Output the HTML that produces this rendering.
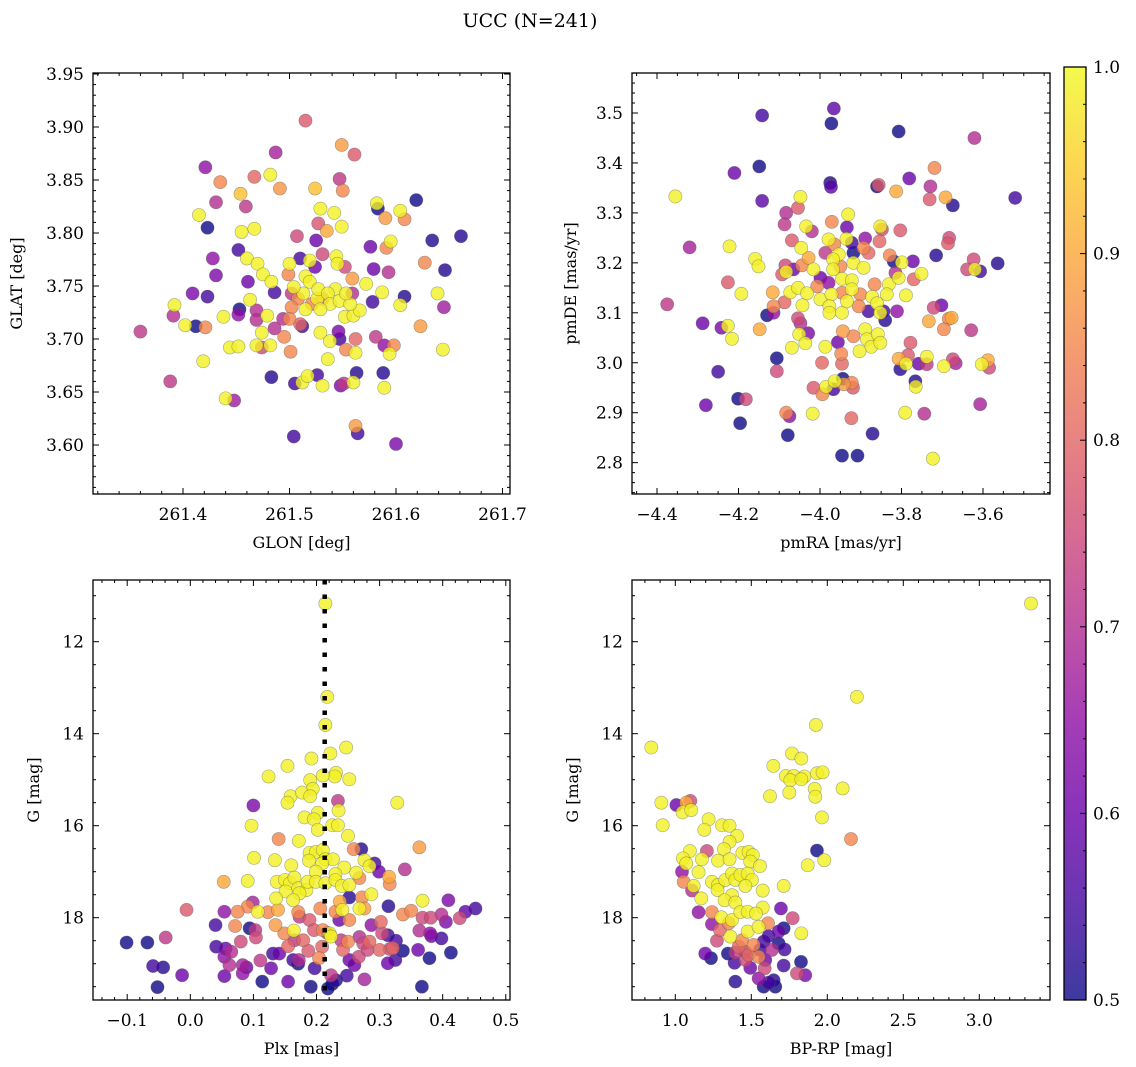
<!DOCTYPE html>
<html><head><meta charset="utf-8"><style>
html,body{margin:0;padding:0;background:#fff;}
svg{display:block;font-family:"DejaVu Serif","Liberation Serif",serif;}
</style></head><body>
<svg id="fig" width="1136" height="1067" viewBox="0 0 1136 1067" xmlns="http://www.w3.org/2000/svg">
<defs>
<linearGradient id="plasma" x1="0" y1="1" x2="0" y2="0">
<stop offset="0" stop-color="#0d0887"/><stop offset="0.1" stop-color="#41049d"/><stop offset="0.2" stop-color="#6a00a8"/><stop offset="0.3" stop-color="#8f0da4"/><stop offset="0.4" stop-color="#b12a90"/><stop offset="0.5" stop-color="#cc4778"/><stop offset="0.6" stop-color="#e16462"/><stop offset="0.7" stop-color="#f2844b"/><stop offset="0.8" stop-color="#fca636"/><stop offset="0.9" stop-color="#fcce25"/><stop offset="1" stop-color="#f0f921"/>
</linearGradient>
</defs>
<text x="530" y="27" font-size="19" text-anchor="middle">UCC (N=241)</text>
</svg>
<script>
// ---------- data: panel 1 (GLON vs GLAT) ----------
const glon=[261.515,261.549,261.561,261.421,261.487,261.435,261.467,261.482,261.491,261.524,261.547,261.550,261.454,261.431,261.459,261.415,261.529,261.542,261.423,261.455,261.467,261.527,261.535,261.549,261.582,261.583,261.590,261.604,261.608,261.619,261.634,261.661,261.646,261.591,261.576,261.595,261.507,261.525,261.452,261.428,261.431,261.460,261.470,261.475,261.483,261.486,261.461,261.409,261.392,261.423,261.412,261.402,261.421,261.391,261.360,261.438,261.453,261.463,261.469,261.452,261.469,261.479,261.502,261.515,261.526,261.543,261.559,261.572,261.579,261.593,261.587,261.578,261.604,261.608,261.627,261.639,261.645,261.623,261.644,261.581,261.589,261.598,261.594,261.588,261.589,261.512,261.529,261.538,261.546,261.536,261.547,261.553,261.562,261.562,261.501,261.486,261.495,261.482,261.474,261.444,261.452,261.469,261.483,261.505,261.512,261.517,261.531,261.526,261.548,261.551,261.560,261.563,261.474,261.440,261.448,261.504,261.562,261.564,261.600,261.388,261.419,261.519,261.527,261.531,261.536,261.538,261.529,261.547,261.521,261.513,261.508,261.504,261.519,261.524,261.531,261.544,261.545,261.552,261.510,261.500,261.499,261.502,261.494,261.500,261.510,261.515,261.552,261.560,261.566,261.557,261.553,261.559];
const glat=[3.906,3.883,3.874,3.862,3.876,3.848,3.853,3.855,3.842,3.842,3.851,3.840,3.837,3.829,3.825,3.817,3.823,3.819,3.805,3.801,3.804,3.809,3.802,3.806,3.828,3.823,3.814,3.821,3.813,3.831,3.793,3.797,3.765,3.786,3.787,3.792,3.797,3.793,3.784,3.776,3.760,3.776,3.771,3.761,3.754,3.744,3.754,3.743,3.732,3.740,3.712,3.713,3.711,3.722,3.707,3.721,3.728,3.737,3.727,3.723,3.718,3.722,3.743,3.759,3.738,3.747,3.757,3.752,3.766,3.763,3.744,3.735,3.732,3.740,3.772,3.743,3.730,3.712,3.690,3.702,3.694,3.694,3.686,3.668,3.654,3.712,3.706,3.698,3.707,3.681,3.700,3.690,3.687,3.700,3.688,3.710,3.702,3.694,3.692,3.692,3.693,3.694,3.664,3.658,3.659,3.665,3.656,3.666,3.656,3.658,3.659,3.668,3.706,3.644,3.642,3.608,3.618,3.611,3.601,3.660,3.679,3.754,3.747,3.738,3.743,3.733,3.728,3.736,3.733,3.743,3.738,3.749,3.774,3.768,3.780,3.778,3.771,3.768,3.776,3.771,3.761,3.730,3.719,3.719,3.714,3.728,3.721,3.722,3.727,3.733,3.743,3.743];
const prob1=[.78,.88,.78,.65,.68,.85,.80,.99,.87,.93,.72,.85,.93,.70,.72,.99,.99,.99,.50,.99,.99,.77,.90,.99,.99,.50,.88,.99,.85,.50,.52,.52,.52,.85,.60,.99,.75,.60,.55,.65,.62,.99,.99,.99,.99,.55,.60,.62,.99,.55,.50,.99,.85,.70,.72,.99,.50,.99,.70,.65,.70,.99,.72,.99,.99,.99,.88,.99,.60,.70,.99,.55,.99,.52,.85,.99,.67,.88,.99,.72,.65,.85,.99,.52,.99,.55,.99,.99,.62,.99,.55,.85,.99,.80,.85,.70,.85,.99,.75,.99,.99,.99,.52,.55,.99,.99,.99,.55,.62,.72,.99,.52,.99,.99,.67,.55,.88,.55,.62,.72,.99,.99,.99,.85,.99,.99,.99,.99,.85,.99,.85,.99,.99,.60,.75,.99,.99,.75,.55,.99,.85,.85,.70,.85,.80,.99,.99,.99,.99,.99,.99,.70];
const glonTicks=[261.4,261.5,261.6,261.7];
const glatTicks=[3.60,3.65,3.70,3.75,3.80,3.85,3.90,3.95];

// ---------- data: panel 2 (pmRA vs pmDE) ----------
const pmra=[-3.966,-3.972,-4.142,-3.807,-3.621,-4.149,-4.210,-4.355,-4.142,-3.975,-3.973,-3.860,-3.856,-3.781,-3.719,-3.729,-3.731,-3.692,-3.674,-3.813,-3.521,-4.048,-4.054,-4.083,-4.087,-3.931,-3.971,-3.934,-4.034,-4.020,-3.852,-3.848,-3.803,-4.069,-4.046,-3.979,-3.965,-3.935,-3.889,-3.922,-3.893,-3.881,-3.854,-3.987,-3.954,-3.918,-3.829,-3.819,-3.799,-3.772,-3.683,-3.686,-3.715,-3.623,-3.639,-3.620,-3.607,-3.564,-4.222,-4.159,-4.151,-4.320,-4.085,-4.093,-4.083,-4.065,-4.044,-4.028,-4.016,-3.968,-3.968,-3.950,-3.918,-3.893,-3.999,-3.979,-3.946,-3.922,-3.866,-3.831,-3.807,-3.815,-3.770,-3.751,-4.226,-4.193,-4.116,-4.073,-4.054,-4.032,-4.007,-3.999,-3.972,-3.946,-3.922,-3.901,-3.872,-3.836,-3.789,-4.375,-4.114,-4.087,-4.043,-4.130,-4.114,-3.977,-3.977,-3.946,-3.934,-3.905,-3.881,-3.860,-3.844,-3.811,-3.852,-3.840,-3.721,-3.702,-3.684,-3.677,-3.733,-3.696,-3.629,-4.288,-4.242,-4.226,-4.216,-4.148,-4.054,-4.048,-4.029,-4.051,-4.036,-4.069,-3.987,-3.956,-3.948,-3.944,-3.918,-3.889,-3.885,-3.874,-3.858,-3.852,-3.903,-3.995,-3.946,-4.106,-4.106,-4.250,-3.778,-3.784,-3.803,-3.807,-3.789,-3.758,-3.738,-3.738,-3.696,-3.674,-3.667,-3.603,-3.588,-3.585,-3.766,-3.765,-4.016,-3.994,-3.967,-3.985,-3.964,-3.944,-3.942,-3.922,-3.919,-4.280,-4.201,-4.182,-4.083,-4.075,-4.018,-3.923,-4.196,-4.079,-3.871,-3.946,-3.908,-3.791,-3.744,-3.723,-3.607];
const pmde=[3.509,3.479,3.495,3.463,3.450,3.393,3.380,3.333,3.324,3.360,3.352,3.353,3.356,3.369,3.390,3.353,3.327,3.331,3.315,3.343,3.330,3.332,3.310,3.300,3.277,3.297,3.282,3.271,3.273,3.263,3.273,3.267,3.265,3.245,3.230,3.247,3.237,3.248,3.249,3.240,3.230,3.220,3.243,3.220,3.217,3.220,3.215,3.203,3.201,3.203,3.250,3.239,3.215,3.207,3.187,3.187,3.183,3.199,3.233,3.208,3.193,3.231,3.195,3.177,3.182,3.187,3.195,3.210,3.187,3.207,3.187,3.193,3.200,3.190,3.170,3.160,3.168,3.165,3.157,3.157,3.170,3.180,3.167,3.178,3.161,3.138,3.141,3.141,3.150,3.139,3.153,3.127,3.137,3.140,3.147,3.137,3.132,3.137,3.135,3.117,3.113,3.121,3.115,3.095,3.100,3.113,3.100,3.100,3.123,3.113,3.103,3.119,3.103,3.103,3.100,3.085,3.110,3.115,3.088,3.090,3.083,3.067,3.065,3.079,3.070,3.074,3.048,3.067,3.089,3.079,3.059,3.057,3.039,3.030,3.032,3.041,3.018,3.063,3.053,3.067,3.047,3.032,3.057,3.040,3.023,3.000,2.998,3.009,2.983,2.982,3.040,3.015,2.987,3.008,2.998,2.998,2.997,3.012,2.993,3.007,2.999,2.997,3.005,2.990,2.963,2.952,2.950,2.937,2.947,2.952,2.963,2.968,2.957,2.960,2.950,2.915,2.928,2.927,2.900,2.893,2.898,2.889,2.879,2.855,2.858,2.814,2.814,2.900,2.898,2.808,2.917];
const prob2=[.58,.50,.55,.50,.70,.50,.60,.99,.58,.52,.58,.50,.78,.60,.85,.70,.78,.90,.52,.90,.55,.99,.78,.70,.72,.99,.85,.60,.99,.70,.99,.75,.78,.78,.99,.99,.85,.99,.65,.55,.85,.80,.80,.72,.99,.50,.85,.50,.99,.60,.75,.78,.52,.75,.75,.99,.55,.52,.99,.99,.99,.68,.75,.78,.99,.60,.85,.90,.99,.99,.99,.85,.99,.99,.60,.65,.99,.99,.85,.99,.99,.70,.80,.99,.78,.99,.90,.99,.99,.99,.85,.99,.99,.85,.99,.85,.99,.99,.99,.72,.85,.80,.99,.50,.65,.99,.99,.99,.99,.85,.55,.99,.55,.65,.99,.52,.75,.60,.85,.90,.90,.85,.72,.60,.62,.99,.99,.90,.75,.70,.62,.99,.99,.99,.99,.60,.85,.88,.85,.99,.99,.99,.99,.99,.99,.80,.80,.50,.75,.55,.78,.78,.52,.90,.99,.60,.72,.99,.99,.75,.68,.99,.90,.75,.52,.99,.78,.85,.55,.99,.99,.50,.88,.85,.78,.60,.50,.75,.85,.65,.99,.80,.50,.50,.52,.50,.50,.99,.70,.99,.68];
const pmraTicks=[-4.4,-4.2,-4.0,-3.8,-3.6];
const pmdeTicks=[2.8,2.9,3.0,3.1,3.2,3.3,3.4,3.5];

// ---------- data: panel 3 (Plx vs G) ----------
const plx=[0.214,0.217,0.214,0.247,0.222,0.192,0.154,0.124,0.231,0.229,0.252,0.210,0.190,0.194,0.159,0.154,0.177,0.190,0.328,0.234,0.235,0.100,0.202,0.181,0.196,0.225,0.234,0.097,0.202,0.250,0.140,0.172,0.363,0.271,0.259,0.101,0.134,0.189,0.199,0.210,0.214,0.226,0.188,0.160,0.209,0.244,0.276,0.284,0.292,0.299,0.340,0.263,0.230,0.199,0.053,0.091,0.137,0.150,0.158,0.165,0.171,0.184,0.173,0.151,0.186,0.199,0.214,0.230,0.240,0.252,0.268,0.315,0.316,0.252,0.272,0.287,0.136,0.163,0.237,0.099,0.091,0.075,0.107,0.123,0.139,0.171,0.206,0.230,0.241,0.268,0.276,0.314,0.337,0.350,0.368,0.409,0.436,0.452,0.398,0.427,0.368,0.381,0.405,0.363,0.380,0.382,0.398,0.413,0.379,0.361,0.367,-0.006,-0.039,-0.101,-0.068,-0.059,-0.043,-0.052,-0.013,0.054,0.040,0.071,0.094,0.103,0.104,0.080,0.041,0.056,0.065,0.054,0.062,0.054,0.083,0.089,0.083,0.111,0.128,0.114,0.135,0.141,0.149,0.155,0.165,0.163,0.172,0.155,0.179,0.187,0.191,0.197,0.204,0.209,0.210,0.217,0.221,0.223,0.223,0.225,0.218,0.231,0.239,0.242,0.250,0.252,0.260,0.248,0.267,0.274,0.281,0.287,0.302,0.304,0.313,0.300,0.316,0.321,0.326,0.337,0.313,0.325,0.276,0.252,0.236,0.189,0.173,0.164,0.196,0.268,0.284,0.131,0.171];
const gmag3=[11.17,13.20,13.81,14.30,14.43,14.54,14.70,14.93,14.85,14.93,14.99,14.91,15.01,15.20,15.36,15.50,15.28,15.36,15.50,15.46,15.67,15.56,15.72,15.82,15.86,15.99,15.99,16.00,16.09,16.22,16.29,16.33,16.47,16.51,16.51,16.70,16.75,16.59,16.57,16.53,16.73,16.73,16.76,16.86,16.82,16.91,16.75,16.88,16.82,17.00,16.95,17.02,17.05,17.00,17.22,17.20,17.22,17.18,17.25,17.13,17.36,17.40,17.47,17.43,17.22,17.22,17.25,17.18,17.31,17.29,17.14,17.11,17.27,17.56,17.56,17.49,17.58,17.62,17.65,17.67,17.76,17.87,17.87,17.88,17.83,17.88,17.80,17.87,17.83,17.80,17.80,17.75,17.93,17.85,17.63,17.62,17.87,17.80,17.93,18.01,18.00,18.00,18.09,18.28,18.34,18.40,18.45,18.76,18.88,18.70,19.50,17.83,18.43,18.54,18.54,19.05,19.08,19.51,19.25,17.87,18.16,18.18,18.23,18.27,18.43,18.52,18.63,18.67,18.74,18.85,19.03,19.27,19.03,19.08,19.21,18.93,19.10,19.39,18.16,18.78,18.34,18.62,18.49,18.92,18.92,19.39,18.49,18.72,19.50,19.10,18.88,18.63,18.27,18.33,18.34,18.41,19.25,19.44,19.54,19.36,18.49,18.70,18.52,18.92,19.03,19.26,18.85,18.56,18.70,18.16,18.09,18.34,18.38,18.70,18.68,18.66,18.50,18.72,18.99,18.92,19.34,18.05,18.05,18.05,17.98,18.28,18.27,18.42,18.52,18.78,19.00];
const prob3=[.99,.99,.99,.99,.99,.99,.99,.99,.99,.99,.99,.99,.99,.99,.99,.99,.99,.99,.99,.72,.99,.62,.99,.99,.99,.99,.99,.99,.99,.99,.85,.99,.88,.52,.85,.99,.99,.99,.99,.99,.99,.99,.99,.99,.99,.99,.99,.99,.55,.60,.70,.99,.99,.99,.90,.99,.99,.99,.99,.99,.99,.99,.99,.99,.99,.99,.99,.99,.99,.99,.85,.90,.85,.52,.85,.99,.99,.99,.90,.68,.85,.85,.99,.85,.90,.85,.85,.85,.99,.99,.88,.52,.85,.85,.99,.62,.58,.55,.70,.75,.75,.75,.62,.70,.65,.60,.55,.50,.50,.60,.50,.78,.72,.50,.50,.55,.52,.50,.60,.65,.55,.85,.50,.72,.75,.75,.55,.60,.70,.65,.70,.60,.68,.60,.65,.72,.60,.50,.88,.60,.85,.80,.72,.55,.70,.60,.80,.78,.50,.55,.85,.80,.85,.70,.99,.99,.72,.50,.50,.52,.72,.80,.85,.60,.60,.55,.75,.75,.75,.65,.80,.75,.55,.80,.75,.80,.55,.50,.60,.55,.68,.85,.60,.78,.72,.99,.78,.70,.80,.55,.50];
const plxTicks=[-0.1,0.0,0.1,0.2,0.3,0.4,0.5];
const gTicks=[12,14,16,18];
const plxRef=[0.213];

// ---------- data: panel 4 (BP-RP vs G) ----------
const bprp=[3.340,2.195,1.925,0.842,1.768,1.829,1.645,1.728,1.779,1.849,1.757,1.829,1.932,1.969,1.750,1.917,1.921,2.101,1.623,1.965,2.156,0.908,0.917,1.007,1.099,1.072,1.048,1.105,1.219,1.191,1.307,1.357,1.406,1.357,1.320,1.208,1.096,1.050,1.072,1.175,1.281,1.357,1.441,1.482,1.510,1.493,1.557,1.932,1.980,1.871,1.044,1.153,1.055,1.121,1.110,1.171,1.241,1.281,1.278,1.329,1.373,1.395,1.428,1.476,1.504,1.461,1.373,1.324,1.395,1.575,1.713,1.575,1.153,1.241,1.303,1.373,1.428,1.476,1.531,1.241,1.294,1.351,1.476,1.548,1.610,1.695,1.772,1.829,1.713,1.680,1.274,1.362,1.439,1.515,1.581,1.614,1.680,1.719,1.636,1.557,1.395,1.461,1.548,1.346,1.197,1.235,1.390,1.461,1.493,1.588,1.713,1.827,1.800,1.855,1.548,1.614,1.395,1.581,1.658,1.647,1.417,1.482,1.592];
const gmag4=[11.17,13.20,13.81,14.30,14.43,14.54,14.70,14.92,14.92,14.93,15.01,14.99,14.86,14.84,15.28,15.20,15.37,15.19,15.36,15.82,16.29,15.50,15.99,15.55,15.46,15.50,15.71,15.66,15.86,16.09,15.99,16.00,16.22,16.35,16.51,16.55,16.55,16.71,16.82,16.73,16.76,16.73,16.59,16.57,16.64,16.78,16.88,16.54,16.75,16.86,17.00,17.01,17.22,17.31,17.41,17.58,17.22,17.29,17.40,17.18,17.04,17.18,17.07,17.04,17.18,17.31,17.51,17.62,17.67,17.41,17.31,17.78,17.88,17.88,17.99,18.05,17.88,17.87,17.91,18.14,18.27,18.12,18.30,18.20,18.12,17.80,18.01,18.34,18.23,18.30,18.50,18.41,18.49,18.59,18.52,18.40,18.56,18.69,18.70,18.70,18.76,18.74,18.85,18.78,18.78,18.88,18.98,18.92,19.09,19.10,19.04,18.96,19.21,19.25,19.32,19.41,19.39,19.50,19.50,19.36,18.63,18.81,18.92];
const prob4=[.99,.99,.99,.99,.99,.99,.99,.99,.99,.99,.99,.99,.99,.99,.99,.99,.99,.99,.99,.99,.85,.99,.99,.60,.75,.90,.99,.99,.99,.99,.99,.99,.99,.99,.99,.75,.99,.99,.99,.99,.99,.99,.99,.99,.99,.99,.99,.50,.99,.99,.65,.99,.85,.99,.70,.99,.99,.99,.99,.99,.99,.99,.99,.99,.99,.99,.99,.99,.99,.99,.99,.99,.65,.85,.99,.99,.99,.99,.99,.65,.80,.85,.99,.99,.85,.60,.75,.99,.50,.60,.75,.99,.85,.85,.55,.55,.50,.55,.70,.55,.72,.75,.85,.50,.60,.50,.55,.75,.60,.75,.55,.50,.75,.62,.65,.55,.52,.50,.50,.52,.80,.80,.60];
const bprpTicks=[1.0,1.5,2.0,2.5,3.0];
const cbarTicks=[0.5,0.6,0.7,0.8,0.9,1.0];

// ---------- rendering ----------
const NS='http://www.w3.org/2000/svg';
const svg=document.getElementById('fig');
function mk(tag,attrs,parent){const e=document.createElementNS(NS,tag);for(const k in attrs)e.setAttribute(k,attrs[k]);(parent||svg).appendChild(e);return e;}
const stops=[[13,8,135],[65,4,157],[106,0,168],[143,13,164],[177,42,144],[204,71,120],[225,100,98],[242,132,75],[252,166,54],[252,206,37],[240,249,33]];
function plasma(t){t=Math.max(0,Math.min(1,t));const f=t*10;const i=Math.min(9,Math.floor(f));const r=f-i;const a=stops[i],b=stops[i+1];return 'rgb('+[0,1,2].map(k=>Math.round(a[k]+(b[k]-a[k])*r)).join(',')+')';}
function fmt(v,d){const s=Math.abs(v).toFixed(d);return (v<-1e-9?'\u2212':'')+s;}

function panel(o){
  const g=mk('g',{});
  
  
  const L=o.box[0],T=o.box[1],R=o.box[2],B=o.box[3];
  const sx=v=>o.x0+(v-o.xv0)*o.xs, sy=v=>o.y0+(v-o.yv0)*o.ys;
  const cid='clip-'+o.name;
  const cp=mk('clipPath',{id:cid},g);mk('rect',{x:L,y:T,width:R-L,height:B-T},cp);
  const pts=mk('g',{'clip-path':'url(#'+cid+')'},g);
  
  
  const idx=o.xd.map((_,i)=>i).sort((a,b)=>o.pd[a]-o.pd[b]);
  idx.forEach(i=>{
    const c=mk('circle',{cx:sx(o.xd[i]),cy:sy(o.yd[i]),r:6.6,fill:plasma((o.pd[i]-0.5)/0.5),'fill-opacity':0.8,stroke:'#555','stroke-opacity':0.5,'stroke-width':0.6},pts);
    
    
  });
  if(o.vline){o.vline.forEach(v=>{const l=mk('line',{x1:sx(v),x2:sx(v),y1:T,y2:B,stroke:'#000','stroke-width':4.5,'stroke-dasharray':'4.5 10'},pts);
    
    });}
  const fr=mk('rect',{x:L,y:T,width:R-L,height:B-T,fill:'none',stroke:'#000','stroke-width':1.3},g);
  
  
  const tk=mk('g',{stroke:'#000','stroke-width':1},g);
  for(let v=o.xmin;v<=o.xmax+1e-9;v+=o.xminor){const x=sx(v);if(x<L-0.5||x>R+0.5)continue;
    const maj=o.xt.some(t=>Math.abs(t-v)<o.xminor/3);const len=maj?6:3;
    mk('line',{x1:x,x2:x,y1:B,y2:B-len},tk);mk('line',{x1:x,x2:x,y1:T,y2:T+len},tk);}
  for(let v=o.ymin;v<=o.ymax+1e-9;v+=o.yminor){const y=sy(v);if(y<T-0.5||y>B+0.5)continue;
    const maj=o.yt.some(t=>Math.abs(t-v)<o.yminor/3);const len=maj?6:3;
    mk('line',{x1:L,x2:L+len,y1:y,y2:y},tk);mk('line',{x1:R,x2:R-len,y1:y,y2:y},tk);}
  o.xt.forEach(v=>{const t=mk('text',{x:sx(v),y:B+26,'font-size':17,'text-anchor':'middle'},g);t.textContent=fmt(v,o.xd_);
    });
  o.yt.forEach(v=>{const t=mk('text',{x:L-9,y:sy(v)+6,'font-size':17,'text-anchor':'end'},g);t.textContent=fmt(v,o.yd_);
    });
  const xl=mk('text',{x:(L+R)/2,y:B+54,'font-size':16,'text-anchor':'middle'},g);xl.textContent=o.xlabel;
  
  const yl=mk('text',{x:0,y:0,'font-size':16,'text-anchor':'middle',transform:'translate('+o.ylx+','+(T+B)/2+') rotate(-90)'},g);yl.textContent=o.ylabel;
  
}

panel({name:'glon-glat-panel',box:[93,73,510,494],xd:glon,yd:glat,pd:prob1,
  x0:183,xv0:261.4,xs:1065,y0:74,yv0:3.95,ys:-1060,
  xmin:261.32,xmax:261.72,xminor:0.02,ymin:3.55,ymax:3.96,yminor:0.01,xt:glonTicks,yt:glatTicks,xd_:1,yd_:2,
  xlabel:'GLON [deg]',ylabel:'GLAT [deg]',ylx:22});
panel({name:'pmra-pmde-panel',box:[632,73,1050,494],xd:pmra,yd:pmde,pd:prob2,
  x0:657,xv0:-4.4,xs:407.5,y0:113,yv0:3.5,ys:-499.5,
  xmin:-4.5,xmax:-3.4,xminor:0.05,ymin:2.72,ymax:3.6,yminor:0.02,xt:pmraTicks,yt:pmdeTicks,xd_:1,yd_:1,
  xlabel:'pmRA [mas/yr]',ylabel:'pmDE [mas/yr]',ylx:576});
panel({name:'plx-g-panel',box:[93,580,510,1000],xd:plx,yd:gmag3,pd:prob3,vline:plxRef,
  x0:190.3,xv0:0,xs:631,y0:641.7,yv0:12,ys:46,
  xmin:-0.16,xmax:0.52,xminor:0.02,ymin:10.5,ymax:20,yminor:0.5,xt:plxTicks,yt:gTicks,xd_:1,yd_:0,
  xlabel:'Plx [mas]',ylabel:'G [mag]',ylx:39});
panel({name:'bprp-g-panel',box:[632,580,1050,1000],xd:bprp,yd:gmag4,pd:prob4,
  x0:675.3,xv0:1.0,xs:152,y0:641.7,yv0:12,ys:46,
  xmin:0.7,xmax:3.5,xminor:0.1,ymin:10.5,ymax:20,yminor:0.5,xt:bprpTicks,yt:gTicks,xd_:1,yd_:0,
  xlabel:'BP-RP [mag]',ylabel:'G [mag]',ylx:578});

// colorbar
const cb=mk('g',{});


const cT=67,cB=1000,cL=1064,cR=1086;
mk('rect',{x:cL,y:cT,width:cR-cL,height:cB-cT,fill:'url(#plasma)','fill-opacity':0.8},cb);
mk('rect',{x:cL,y:cT,width:cR-cL,height:cB-cT,fill:'none',stroke:'#000','stroke-width':1.3},cb);
const cy=v=>cB-(v-0.5)/0.5*(cB-cT);
for(let v=0.5;v<=1.0001;v+=0.02){const y=cy(v);const maj=cbarTicks.some(t=>Math.abs(t-v)<0.005);
  mk('line',{x1:cR,x2:cR-(maj?6:3),y1:y,y2:y,stroke:'#000','stroke-width':1},cb);}
cbarTicks.forEach(v=>{const t=mk('text',{x:cR+7,y:cy(v)+6,'font-size':17},cb);t.textContent=v.toFixed(1);
  });
</script>
</body></html>
